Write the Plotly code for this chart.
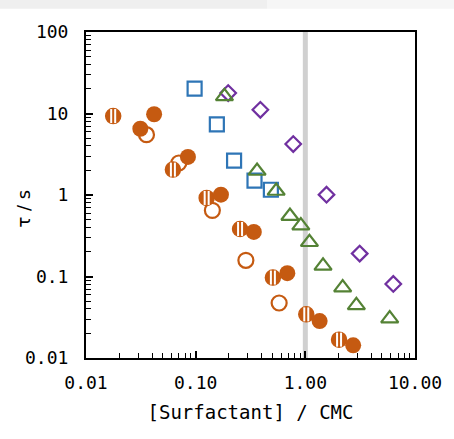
import plotly.graph_objects as go

# ---- data ----
filled_x = [0.0418, 0.0313, 0.085, 0.170, 0.339, 0.685, 1.35, 2.73]
filled_y = [9.8, 6.5, 2.93, 1.01, 0.352, 0.110, 0.0284, 0.0143]

hatched_x = [0.0177, 0.062, 0.126, 0.254, 0.506, 1.02, 2.03]
hatched_y = [9.3, 2.05, 0.92, 0.383, 0.097, 0.0343, 0.0168]

open_x = [0.0356, 0.0702, 0.142, 0.287, 0.577]
open_y = [5.5, 2.47, 0.648, 0.158, 0.0473]

square_x = [0.0978, 0.156, 0.224, 0.344, 0.485]
square_y = [20.2, 7.37, 2.64, 1.50, 1.16]

tri_x = [0.183, 0.363, 0.542, 0.724, 0.910, 1.09, 1.45, 2.19, 2.92, 5.88]
tri_y = [16.2, 1.97, 1.12, 0.552, 0.421, 0.263, 0.135, 0.073, 0.0443, 0.0304]

dia_x = [0.198, 0.389, 0.776, 1.56, 3.13, 6.34]
dia_y = [17.8, 11.1, 4.22, 1.01, 0.191, 0.081]

CMC = 1.0

x_ticks = [0.01, 0.1, 1, 10]
x_ticktext = ["0.01", "0.10", "1.00", "10.00"]
y_ticks = [0.01, 0.1, 1, 10, 100]
y_ticktext = ["0.01", "0.1", "1", "10", "100"]

ORANGE = "#C55A11"
BLUE = "#2E75B6"
GREEN = "#548235"
PURPLE = "#7030A0"

fig = go.Figure()

# open squares
fig.add_trace(go.Scatter(x=square_x, y=square_y, mode="markers",
    marker=dict(symbol="square-open", size=14, color=BLUE, line=dict(width=2.2, color=BLUE))))
# diamonds
fig.add_trace(go.Scatter(x=dia_x, y=dia_y, mode="markers",
    marker=dict(symbol="diamond-open", size=12, color=PURPLE, line=dict(width=2.2, color=PURPLE))))
# triangles
fig.add_trace(go.Scatter(x=tri_x, y=tri_y, mode="markers",
    marker=dict(symbol="triangle-up-open", size=15, color=GREEN, line=dict(width=2.2, color=GREEN))))
# open circles
fig.add_trace(go.Scatter(x=open_x, y=open_y, mode="markers",
    marker=dict(symbol="circle", size=15, color="white", line=dict(width=2.2, color=ORANGE))))
# hatched circles: orange disc + white band + orange centre stripe
fig.add_trace(go.Scatter(x=hatched_x, y=hatched_y, mode="markers",
    marker=dict(symbol="circle", size=15, color=ORANGE, line=dict(width=1.5, color=ORANGE))))
fig.add_trace(go.Scatter(x=hatched_x, y=hatched_y, mode="markers",
    marker=dict(symbol="line-ns", size=10, line=dict(width=6, color="white"))))
fig.add_trace(go.Scatter(x=hatched_x, y=hatched_y, mode="markers",
    marker=dict(symbol="line-ns", size=11, line=dict(width=2, color=ORANGE))))
# filled circles
fig.add_trace(go.Scatter(x=filled_x, y=filled_y, mode="markers",
    marker=dict(symbol="circle", size=16, color=ORANGE, line=dict(width=0))))

# CMC line
fig.add_shape(type="line", xref="x", yref="paper", x0=CMC, x1=CMC, y0=0, y1=1,
              line=dict(color="#D0D0D0", width=5), layer="between")

# faint screenshot band at top
fig.add_shape(type="rect", xref="paper", yref="paper", x0=-0.3, x1=0.55,
              y0=1.071, y1=1.11, fillcolor="#EFEFEF", line=dict(width=0), layer="below")
fig.add_shape(type="rect", xref="paper", yref="paper", x0=0.55, x1=1.2,
              y0=1.071, y1=1.11, fillcolor="#F6F6F6", line=dict(width=0), layer="below")

minor_vals = [m * 10 ** e for e in range(-2, 2) for m in range(2, 10)]

tickfont = dict(family="DejaVu Sans Mono", size=18, color="black")

fig.update_xaxes(type="log", range=[-2, 1], tickmode="array", tickvals=x_ticks,
                 ticktext=x_ticktext, ticks="inside", ticklen=7, tickwidth=1.5,
                 tickcolor="black", showline=True, linecolor="black", linewidth=2,
                 mirror=True, showgrid=False, zeroline=False, tickfont=tickfont,
                 ticklabelstandoff=7,
                 minor=dict(tickmode="array", tickvals=minor_vals, ticks="inside",
                            ticklen=5, tickwidth=1, tickcolor="black", showgrid=False),
                 title=dict(text="[Surfactant] / CMC",
                            font=dict(family="DejaVu Sans Mono", size=19, color="black"),
                            standoff=14))
fig.update_yaxes(type="log", range=[-2, 2], tickmode="array", tickvals=y_ticks,
                 ticktext=y_ticktext, ticks="inside", ticklen=7, tickwidth=1.5,
                 tickcolor="black", showline=True, linecolor="black", linewidth=2,
                 mirror=True, showgrid=False, zeroline=False, tickfont=tickfont,
                 ticklabelstandoff=12,
                 minor=dict(tickmode="array", tickvals=minor_vals, ticks="inside",
                            ticklen=5, tickwidth=1, tickcolor="black", showgrid=False))

fig.add_annotation(text="τ / s", xref="paper", yref="paper", x=-0.19, y=0.46,
                   xanchor="center", yanchor="middle",
                   textangle=-90, showarrow=False,
                   font=dict(family="DejaVu Sans", size=18, color="black"))

fig.update_layout(width=454, height=439, margin=dict(l=86, r=35, t=32, b=81),
                  paper_bgcolor="white", plot_bgcolor="white", showlegend=False)

fig.write_html("out.html", config={"displayModeBar": False},
               post_script="document.body.style.margin='0';")
